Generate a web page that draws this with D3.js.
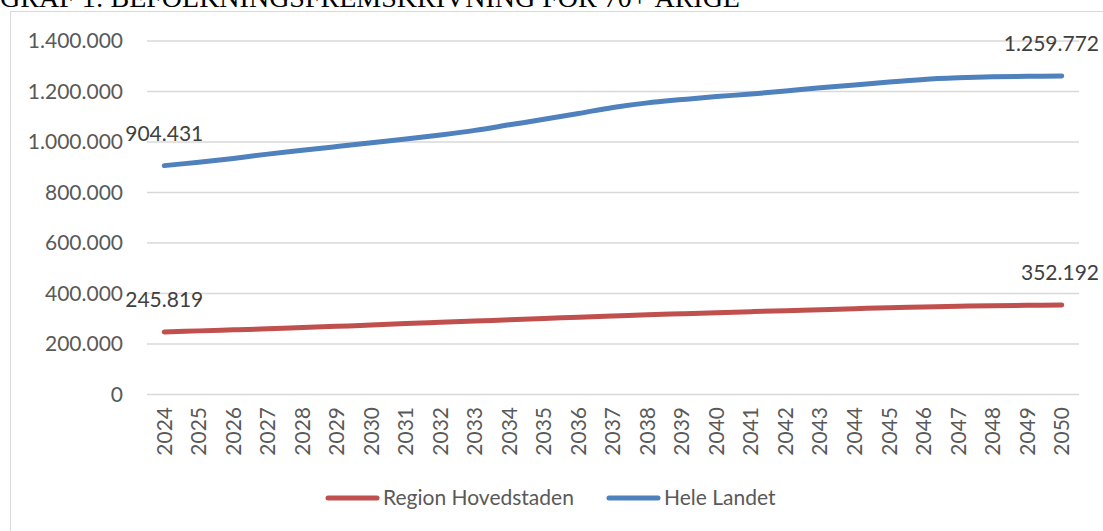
<!DOCTYPE html>
<html>
<head>
<meta charset="utf-8">
<script src="https://cdn.jsdelivr.net/npm/d3@7"></script>
<style>
  body { margin: 0; background: #fff; }
  svg { display: block; }
  .tick text { font-family: Lato, "Open Sans", sans-serif; fill: #595959; }
</style>
</head>
<body>
<div id="chart"></div>
<script>
// Data
var years = [2024, 2025, 2026, 2027, 2028, 2029, 2030, 2031, 2032, 2033, 2034, 2035, 2036,
  2037, 2038, 2039, 2040, 2041, 2042, 2043, 2044, 2045, 2046, 2047, 2048, 2049, 2050];

var regionHovedstaden = [245819, 250000, 254000, 258000, 263000, 268000, 273000, 279000,
  284000, 289000, 294000, 299000, 304000, 309000, 314000, 318000, 322000, 326000, 330000,
  334000, 338000, 342000, 345000, 347500, 349500, 351000, 352192];

var heleLandet = [904431, 918000, 933000, 950000, 965000, 980000, 995000, 1010000, 1026000,
  1044000, 1066000, 1088000, 1111000, 1135000, 1153000, 1166000, 1178000, 1188000, 1200000,
  1213000, 1224000, 1236000, 1246000, 1252000, 1256000, 1258000, 1259772];

var seriesNames = ["Region Hovedstaden", "Hele Landet"];
var seriesColors = ["#C0504D", "#4F81BD"];
var yTicks = [0, 200000, 400000, 600000, 800000, 1000000, 1200000, 1400000];

var titleText = "GRAF 1: BEFOLKNINGSFREMSKRIVNING FOR 70+ ÅRIGE";

// Chart dimensions
var W = 1103, H = 531;
var margin = {top: 40.5, right: 24, bottom: 137, left: 147};
var width = 1079 - margin.left;
var height = 394 - margin.top;

var locale = d3.formatLocale({decimal: ",", thousands: ".", grouping: [3], currency: ["", ""]});
var fmt = locale.format(",d");

var svg = d3.select("#chart").append("svg")
    .attr("width", W)
    .attr("height", H);

// title (clipped at the top, as in the source)
svg.append("text")
    .attr("x", 0)
    .attr("y", 7)
    .style("font-family", "'Liberation Serif', 'Times New Roman', serif")
    .style("font-size", "28px")
    .style("fill", "#000")
    .text(titleText);

// chart area border
svg.append("rect")
    .attr("x", 10.5).attr("y", 11.5)
    .attr("width", W + 10).attr("height", H + 10)
    .attr("fill", "#fff")
    .attr("stroke", "#D9D9D9");

var g = svg.append("g")
    .attr("transform", "translate(" + margin.left + "," + margin.top + ")");

var x = d3.scaleBand().domain(years).range([0, width]);
var y = d3.scaleLinear().domain([0, 1400000]).range([height, 0]);

// gridlines
g.append("g")
    .attr("class", "grid")
    .call(d3.axisLeft(y).tickValues(yTicks).tickSize(-width).tickFormat(""))
    .call(function(s) {
      s.select(".domain").remove();
      s.selectAll("line").attr("stroke", "#D9D9D9").attr("stroke-width", 1.3);
    });

// y axis labels
g.append("g")
    .call(d3.axisLeft(y).tickValues(yTicks).tickSize(0).tickPadding(24).tickFormat(fmt))
    .call(function(s) {
      s.select(".domain").remove();
      s.selectAll("text").style("font-size", "21px").attr("dy", "0.35em");
    });

// x axis labels
g.append("g")
    .attr("transform", "translate(0," + height + ")")
    .call(d3.axisBottom(x).tickSize(0).tickPadding(0))
    .call(function(s) {
      s.select(".domain").remove();
      s.selectAll("text")
        .style("font-size", "21px")
        .attr("text-anchor", "end")
        .attr("transform", "rotate(-90)")
        .attr("x", -13)
        .attr("y", 0)
        .attr("dy", "0.35em");
    });

var cx = function(i) { return x(years[i]) + x.bandwidth() / 2; };

var line = d3.line()
    .x(function(d, i) { return cx(i); })
    .y(function(d) { return y(d); })
    .curve(d3.curveCatmullRom.alpha(0.5));

var allSeries = [regionHovedstaden, heleLandet];

allSeries.forEach(function(vals, k) {
  g.append("path")
    .datum(vals)
    .attr("fill", "none")
    .attr("stroke", seriesColors[k])
    .attr("stroke-width", 5)
    .attr("stroke-linecap", "round")
    .attr("stroke-linejoin", "round")
    .attr("d", line);

  // data labels on the first and last point
  [0, vals.length - 1].forEach(function(i) {
    var t = g.append("text")
      .attr("y", y(vals[i]) - 25)
      .attr("text-anchor", "middle")
      .style("font-family", "Lato, 'Open Sans', sans-serif")
      .style("font-size", "21px")
      .style("fill", "#404040")
      .text(fmt(vals[i]));
    var w = t.node().getComputedTextLength();
    var px = Math.min(cx(i), 1099 - margin.left - w / 2);
    t.attr("x", px);
  });
});

// legend
var legend = svg.append("g").attr("transform", "translate(326,498)");
var legX = [0, 281];
seriesNames.forEach(function(name, k) {
  var lg = legend.append("g").attr("transform", "translate(" + legX[k] + ",0)");
  lg.append("line")
    .attr("x1", 2).attr("x2", 51)
    .attr("stroke", seriesColors[k])
    .attr("stroke-width", 5)
    .attr("stroke-linecap", "round");
  lg.append("text")
    .attr("x", 57)
    .attr("dy", "0.35em")
    .style("font-family", "Lato, 'Open Sans', sans-serif")
    .style("font-size", "21px")
    .style("fill", "#595959")
    .text(name);
});
</script>
</body>
</html>
